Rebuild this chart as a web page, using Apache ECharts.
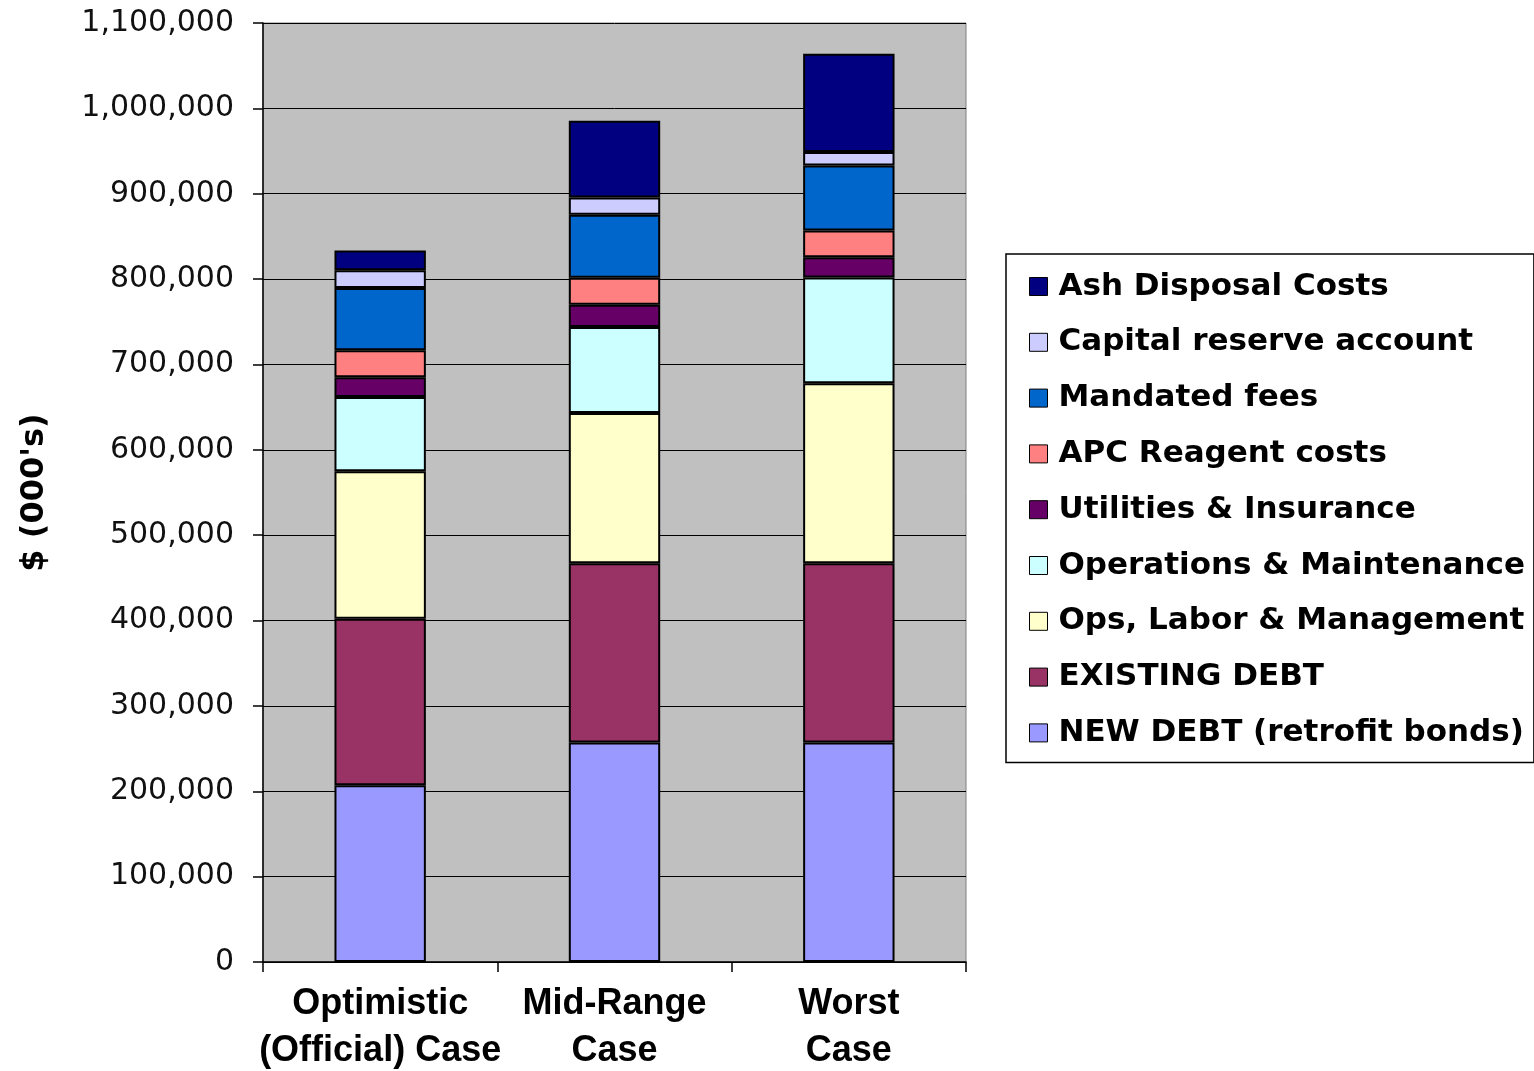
<!DOCTYPE html>
<html>
<head>
<meta charset="utf-8">
<script src="https://cdn.jsdelivr.net/npm/echarts@6/dist/echarts.min.js"></script>
<style>
  html, body { margin: 0; padding: 0; background: #fff; }
  #chart { width: 1534px; height: 1071px; }
</style>
</head>
<body>
<div id="chart"></div>
<script>
// categories (x axis)
const categories = ['Optimistic\n(Official) Case', 'Mid-Range\nCase', 'Worst\nCase']

// series values, in $000's, bottom of the stack first
const newDebt = [207000, 257000, 257000]
const existingDebt = [195000, 210000, 210000]
const opsLabor = [173000, 176000, 211000]
const opsMaint = [87000, 101000, 124000]
const utilities = [23000, 26000, 23500]
const apcReagent = [31500, 31500, 31500]
const mandatedFees = [73000, 74000, 76000]
const capitalReserve = [21000, 20000, 16000]
const ashDisposal = [23000, 90000, 115000]

// y axis ticks
const yMin = 0
const yMax = 1100000
const yStep = 100000

const stackList = [
  { name: 'NEW DEBT (retrofit bonds)', data: newDebt, color: '#9999FF' },
  { name: 'EXISTING DEBT', data: existingDebt, color: '#993366' },
  { name: 'Ops, Labor & Management', data: opsLabor, color: '#FFFFCC' },
  { name: 'Operations & Maintenance', data: opsMaint, color: '#CCFFFF' },
  { name: 'Utilities & Insurance', data: utilities, color: '#660066' },
  { name: 'APC Reagent costs', data: apcReagent, color: '#FF8080' },
  { name: 'Mandated fees', data: mandatedFees, color: '#0066CC' },
  { name: 'Capital reserve account', data: capitalReserve, color: '#CCCCFF' },
  { name: 'Ash Disposal Costs', data: ashDisposal, color: '#000080' },
]

let mycharts = echarts.init(document.getElementById('chart'))
mycharts.setOption({
  animation: false,
  grid: {
    left: 263,
    right: 568,
    top: 23,
    bottom: 109,
    outerBoundsMode: 'none',
    containLabel: false,
    show: true,
    backgroundColor: '#C0C0C0',
    borderColor: '#808080',
    borderWidth: 1,
  },
  legend: {
    orient: 'vertical',
    left: 1006,
    top: 254,
    // top of the stack is listed first
    data: stackList.map(s => s.name).reverse(),
    icon: 'rect',
    itemWidth: 18,
    itemHeight: 18,
    itemGap: 24.8,
    padding: [17, 9, 14, 23],
    backgroundColor: '#fff',
    borderColor: '#000',
    borderWidth: 1.5,
    borderRadius: 0,
    itemStyle: { borderColor: '#000', borderWidth: 1 },
    textStyle: {
      fontFamily: 'DejaVu Sans',
      fontWeight: 'bold',
      fontSize: 31,
      color: '#000',
      padding: [0, 0, 0, 6],
    },
  },
  xAxis: {
    type: 'category',
    data: categories,
    axisLine: { lineStyle: { color: '#000', width: 1.5 } },
    axisTick: { show: true, interval: 0, length: 10, lineStyle: { color: '#000', width: 1.5 } },
    axisLabel: {
      interval: 0,
      margin: 19,
      fontFamily: 'Liberation Sans',
      fontWeight: 'bold',
      fontSize: 36,
      lineHeight: 47,
      color: '#000',
    },
    splitLine: { show: false },
  },
  yAxis: {
    type: 'value',
    min: yMin,
    max: yMax,
    interval: yStep,
    name: "$ (000's)",
    nameLocation: 'middle',
    nameRotate: 90,
    nameGap: 212,
    nameTextStyle: {
      fontFamily: 'DejaVu Sans',
      fontWeight: 'bold',
      fontSize: 32,
      color: '#000',
    },
    axisLine: { show: true, lineStyle: { color: '#000', width: 1.5 } },
    axisTick: { show: true, length: 10, lineStyle: { color: '#000', width: 1.5 } },
    axisLabel: {
      margin: 29,
      fontFamily: 'DejaVu Sans',
      fontSize: 30,
      color: '#111',
      formatter: v => v.toLocaleString('en-US'),
    },
    splitLine: { show: true, lineStyle: { color: '#000', width: 1 } },
  },
  series: stackList.map(s => ({
    name: s.name,
    type: 'bar',
    stack: 'total',
    data: s.data,
    barWidth: '39%',
    itemStyle: { color: s.color, borderColor: '#000', borderWidth: 2 },
  })),
})
</script>
</body>
</html>
